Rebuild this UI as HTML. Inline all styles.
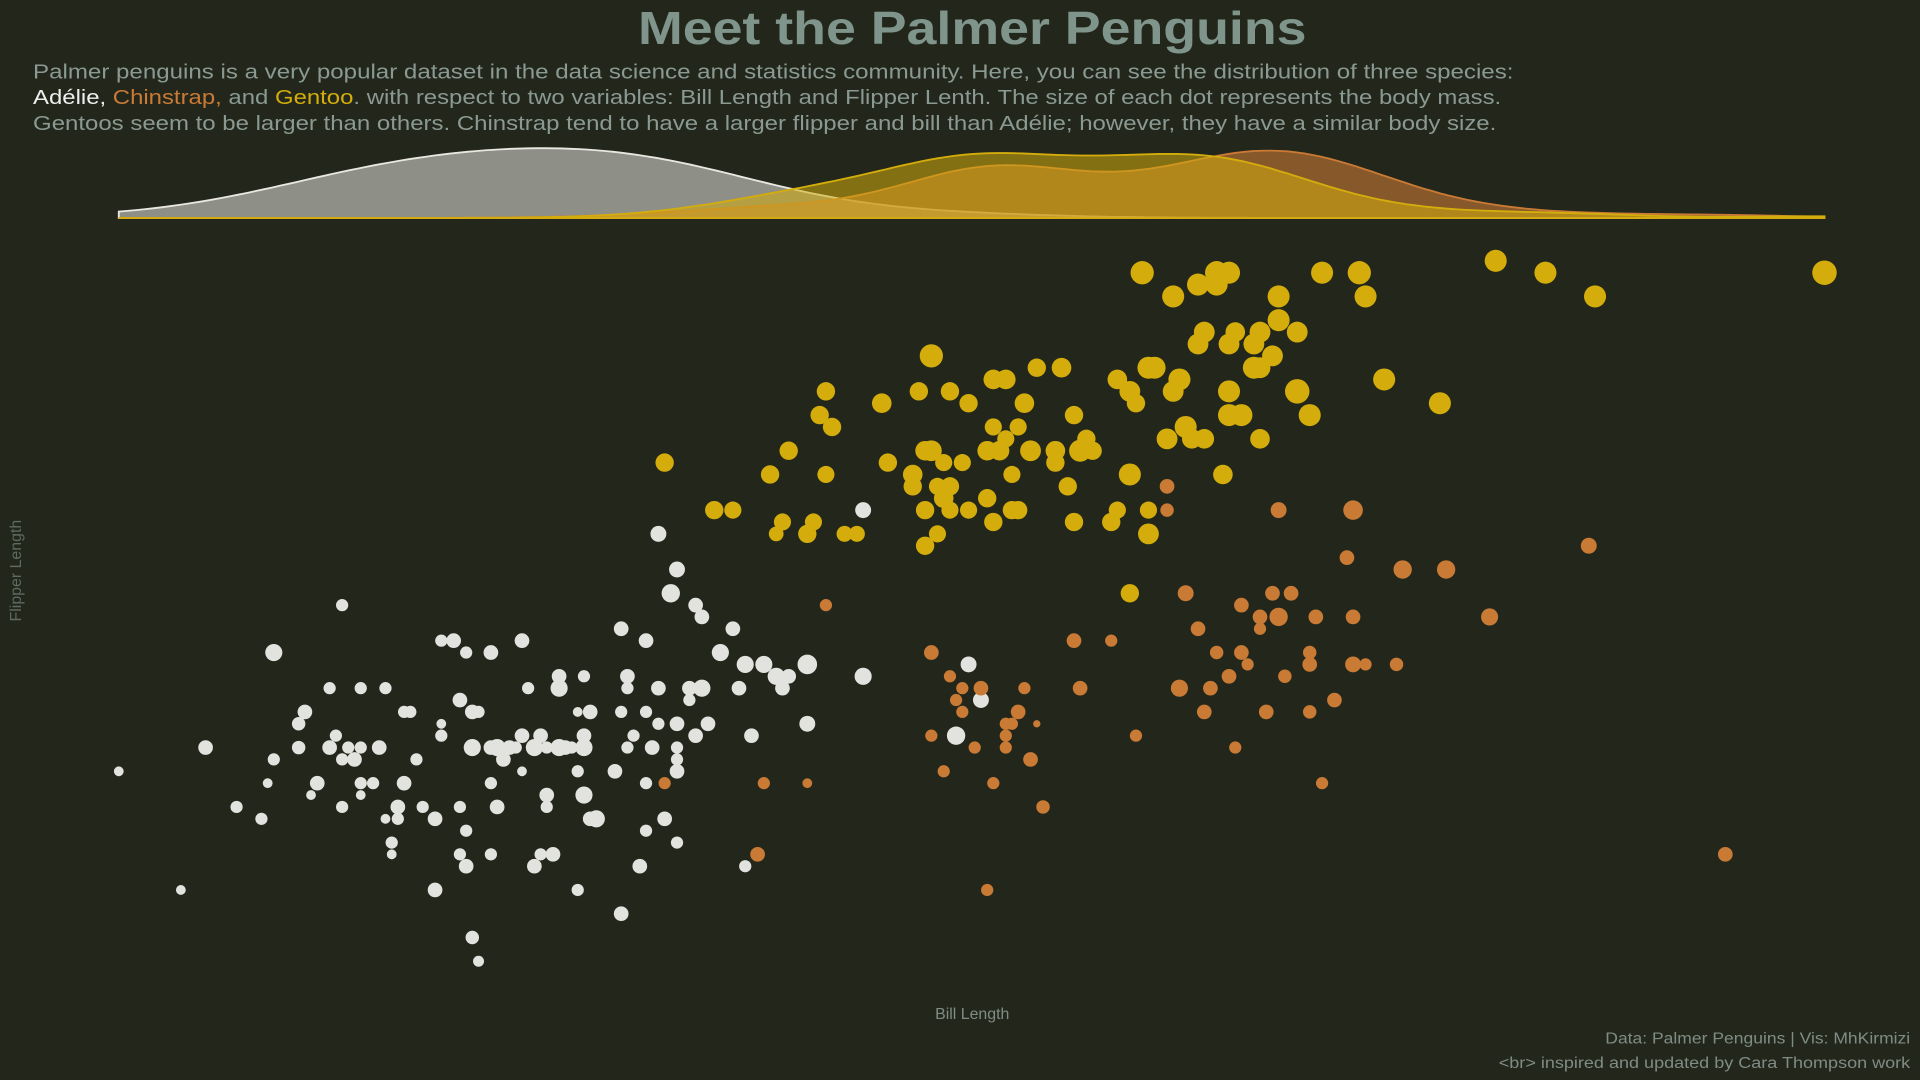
<!DOCTYPE html>
<html><head><meta charset="utf-8"><style>
html,body{margin:0;padding:0;background:#23271b;width:1920px;height:1080px;overflow:hidden}
svg{display:block}
</style></head><body>
<svg id="chart" width="1920" height="1080" viewBox="0 0 1568 882" xmlns="http://www.w3.org/2000/svg" font-family="'Liberation Sans', sans-serif">
<rect x="0" y="0" width="1568" height="882" fill="#23271b"/>
<text x="521" y="36" textLength="546" lengthAdjust="spacingAndGlyphs" font-size="38" font-weight="bold" fill="#7f958c">Meet the Palmer Penguins</text>
<g font-size="16.5" fill="#8a9a92">
<text x="27" y="64" textLength="1209" lengthAdjust="spacingAndGlyphs">Palmer penguins is a very popular dataset in the data science and statistics community. Here, you can see the distribution of three species:</text>
<text x="27" y="85" textLength="1199" lengthAdjust="spacingAndGlyphs"><tspan fill="#eeeeee">Adélie,</tspan> <tspan fill="#c97a35">Chinstrap,</tspan> and <tspan fill="#d4ad0c">Gentoo</tspan>. with respect to two variables: Bill Length and Flipper Lenth. The size of each dot represents the body mass.</text>
<text x="27" y="106" textLength="1195" lengthAdjust="spacingAndGlyphs">Gentoos seem to be larger than others. Chinstrap tend to have a larger flipper and bill than Adélie; however, they have a similar body size.</text>
</g>
<g id="dens"></g>
<g id="pts"></g>
<text x="794" y="832" text-anchor="middle" font-size="13" fill="#7f8c84">Bill Length</text>
<text x="17" y="466" text-anchor="middle" font-size="13" fill="#5f6a62" transform="rotate(-90 17 466)">Flipper Length</text>
<text x="1311" y="852" textLength="249" lengthAdjust="spacingAndGlyphs" font-size="13" fill="#7f8c84">Data: Palmer Penguins | Vis: MhKirmizi</text>
<text x="1224" y="872" textLength="336" lengthAdjust="spacingAndGlyphs" font-size="13" fill="#7f8c84">&lt;br&gt; inspired and updated by Cara Thompson work</text>
</svg>
<script>
const species = ["Adelie", "Chinstrap", "Gentoo"];
const adelieBill = [32.1,33.1,33.5,34.0,34.4,34.5,34.6,34.6,35.0,35.0,35.1,35.2,35.3,35.5,35.5,35.6,35.7,35.7,35.7,35.8,35.9,36.0,36.0,36.0,36.0,36.2,36.3,36.4,36.4,36.5,36.5,36.6,36.6,36.7,36.7,36.8,36.9,37.0,37.2,37.2,37.3,37.3,37.3,37.5,37.6,37.6,37.6,37.7,37.7,37.7,37.8,37.8,37.9,38.1,38.1,38.1,38.1,38.2,38.2,38.3,38.4,38.5,38.6,38.6,38.6,38.7,38.8,38.8,38.9,38.9,39.0,39.0,39.0,39.1,39.2,39.2,39.2,39.3,39.4,39.5,39.5,39.5,39.6,39.6,39.6,39.6,39.7,39.7,39.8,40.1,40.2,40.2,40.2,40.3,40.3,40.3,40.4,40.5,40.6,40.6,40.6,40.6,40.7,40.8,40.8,40.8,40.9,41.0,41.1,41.1,41.1,41.1,41.1,41.1,41.3,41.3,41.4,41.4,41.5,41.5,41.6,41.8,42.0,42.1,42.2,42.2,42.3,42.5,42.7,42.8,42.9,43.2,43.2,44.1,44.1,45.8,45.6,46.0,37.9,37.8];
const adelieFlipper = [188,178,190,185,184,187,189,198,190,192,193,186,187,195,190,191,202,185,189,190,189,190,187,186,195,187,190,195,184,182,181,185,184,187,193,193,189,185,184,178,199,192,191,199,194,185,181,183,180,198,190,193,193,198,190,187,181,190,185,189,190,190,199,188,191,195,190,180,191,181,190,186,185,181,196,195,190,190,190,193,178,188,196,191,186,190,193,184,184,188,200,193,176,196,195,190,191,180,199,193,187,183,190,208,195,192,184,203,205,192,190,189,188,182,195,194,202,191,201,195,192,198,200,195,197,180,191,197,196,195,196,197,192,210,196,197,191,194,172,174];
const adelieMass = [3180,3180,4140,3660,3660,3180,3660,4620,3900,3900,4140,3180,4140,3660,4140,3660,3660,3660,3660,3660,4140,3660,3660,3180,3660,3660,4140,3660,3180,3660,3180,4140,3660,4140,3660,3660,3660,3660,4140,4140,3660,3180,3660,4140,4140,3660,3660,3660,4140,3660,4620,4140,3660,4140,4140,3660,3660,4620,4140,4140,4140,3660,4140,3180,4140,3660,4620,4140,4140,3660,3660,4140,3660,4140,4140,4620,4620,4140,3660,3180,3660,3660,3660,4140,4620,4620,4140,4140,4620,4140,4140,3660,4140,4140,3660,3660,3660,4140,4140,3660,3660,3660,4140,4380,4140,3660,4140,4860,4380,4140,3660,3660,4140,3660,4140,3660,4140,4140,4140,4620,4140,4620,4140,4140,4620,3660,4140,4620,4620,4140,4140,5100,4380,4380,4620,4380,4860,4380,3420,3900];
const chinBill = [40.9,42.4,42.5,43.2,43.5,45.2,45.2,45.4,45.5,45.6,45.7,45.7,45.9,46.0,46.1,46.2,46.4,46.4,46.4,46.5,46.6,46.7,46.8,46.9,47.0,47.5,47.6,48.1,48.5,49.0,49.0,49.2,49.3,49.5,49.6,49.7,49.8,50.0,50.1,50.2,50.2,50.3,50.5,50.5,50.6,50.7,50.8,50.8,50.9,51.0,51.3,51.3,51.3,51.4,51.5,51.7,51.9,52.0,52.0,52.0,52.2,52.7,52.8,53.5,54.2,55.8,58.0];
const chinFlipper = [187,181,187,187,202,198,191,188,196,194,195,193,190,195,178,187,192,191,190,192,193,195,189,192,185,199,195,199,191,212,210,195,203,200,193,195,198,196,190,202,198,197,201,200,193,203,201,210,196,203,197,198,193,201,187,194,206,197,210,201,197,197,205,205,201,207,181];
const chinMass = [3660,4140,3660,3180,3660,4140,3660,3660,3660,3660,3660,3660,3660,4140,3660,3660,3660,3660,3660,3660,4140,3660,4140,2700,3900,4140,4140,3660,3660,4140,3900,4620,4380,4140,4140,4140,3900,4140,3660,4140,4140,3660,4140,3660,4140,4140,4860,4380,3900,4140,4140,3900,3900,4140,3660,4140,4140,4380,5100,4140,3660,3900,4860,4860,4620,4380,4140];
const gentooBill = [40.9,41.7,42.0,42.6,42.7,42.8,42.9,43.2,43.3,43.4,43.5,43.5,43.6,43.8,44.0,44.4,44.5,44.9,44.9,45.0,45.1,45.1,45.1,45.2,45.2,45.3,45.3,45.4,45.4,45.5,45.5,45.5,45.7,45.8,45.8,46.1,46.1,46.2,46.2,46.2,46.3,46.4,46.4,46.5,46.5,46.6,46.6,46.7,46.8,46.9,47.2,47.2,47.3,47.4,47.5,47.5,47.6,47.7,47.8,48.1,48.2,48.2,48.4,48.4,48.4,48.5,48.6,48.7,48.7,48.7,48.8,49.0,49.1,49.1,49.2,49.3,49.4,49.5,49.5,49.6,49.6,49.8,49.8,49.9,50.0,50.0,50.0,50.0,50.2,50.1,50.4,50.4,50.5,50.5,50.5,50.7,50.8,50.8,51.1,51.1,51.3,51.5,52.1,52.2,52.5,53.4,54.3,55.1,55.9,59.6];
const gentooFlipper = [214,210,210,213,208,209,215,208,209,218,220,213,217,208,208,219,214,213,212,220,215,210,207,223,215,212,208,214,211,220,212,210,214,219,210,211,215,221,217,209,215,221,216,213,210,217,210,219,215,222,215,214,222,212,218,209,215,216,215,209,221,210,213,203,220,219,230,222,210,208,222,216,228,220,221,217,216,229,224,225,216,230,229,213,230,224,220,218,218,225,222,224,225,222,216,223,228,226,225,220,218,230,230,228,221,219,231,230,228,230];
const gentooMass = [4860,4860,4620,4860,4140,4620,4860,4860,4620,4860,4860,4620,4860,4380,4380,5100,4860,5100,4860,4860,5100,4860,4860,5820,5340,4620,4620,4620,5100,4860,4860,4620,4620,4860,4620,4860,5100,5100,4620,4860,5100,5100,4620,4620,4860,4620,4860,5100,5340,4860,5100,4860,5100,4860,4860,4860,5580,4860,4860,4860,5100,4620,5580,4860,5340,4860,5820,5580,4620,5340,5580,5340,5580,5340,5580,5580,5100,5580,5340,5340,5100,5820,5580,5100,5580,5340,5580,5580,5580,5100,5580,5340,5340,5340,5100,5340,5580,5580,5340,6060,5580,5580,5820,5580,5580,5580,5580,5580,5580,6060];

const NS = "http://www.w3.org/2000/svg";
const X0 = 97, X1 = 1490, BMIN = 32.1, BMAX = 59.6;
const Y_TOP = 213, Y_BOT = 785, FMAX = 231, FMIN = 172;
function xScale(b){ return X0 + (b - BMIN) / (BMAX - BMIN) * (X1 - X0); }
function yScale(f){ return Y_TOP + (FMAX - f) / (FMAX - FMIN) * (Y_BOT - Y_TOP); }
function rScale(m){ return 3 + (m - 2700) / 3600 * 7.5; }

const groups = [
  {name:"adelie", bill:adelieBill, fl:adelieFlipper, mass:adelieMass, color:"#e2e2de", dfill:"#8e8f86", dop:1, dstroke:"#e8e8e0", bw:1.6, h:57},
  {name:"chinstrap", bill:chinBill, fl:chinFlipper, mass:chinMass, color:"#c97a35", dfill:"#c97a35", dop:0.6, dstroke:"#c97a35", bw:1.3, h:55},
  {name:"gentoo", bill:gentooBill, fl:gentooFlipper, mass:gentooMass, color:"#d4ad0c", dfill:"#d4ad0c", dop:0.55, dstroke:"#d4ad0c", bw:1.2, h:53}
];

const dens = document.getElementById("dens");
const BASE = 178;
function kde(arr, x, bw){ let s=0; for(const v of arr){ const z=(x-v)/bw; s+=Math.exp(-0.5*z*z);} return s/(arr.length*bw*Math.sqrt(2*Math.PI)); }
groups.forEach(g => {
  const c = [];
  for(let i=0;i<=200;i++){ const b=BMIN+(BMAX-BMIN)*i/200; c.push([b,kde(g.bill,b,g.bw)]); }
  let maxD = 0; c.forEach(p => { if(p[1]>maxD) maxD=p[1]; });
  let d = "M" + xScale(BMIN) + "," + BASE;
  c.forEach(p => { d += " L" + xScale(p[0]).toFixed(1) + "," + (BASE - p[1]/maxD*g.h).toFixed(1); });
  d += " L" + xScale(BMAX) + "," + BASE + " Z";
  const path = document.createElementNS(NS, "path");
  path.setAttribute("d", d);
  path.setAttribute("fill", g.dfill);
  path.setAttribute("fill-opacity", g.dop);
  path.setAttribute("stroke", g.dstroke);
  path.setAttribute("stroke-width", "1.5");
  
  
  dens.appendChild(path);
});

const pts = document.getElementById("pts");
groups.forEach(g => {
  const gg = document.createElementNS(NS, "g");
  
  
  g.bill.forEach((b,i) => {
    const c = document.createElementNS(NS, "circle");
    c.setAttribute("cx", xScale(b).toFixed(1));
    c.setAttribute("cy", yScale(g.fl[i]).toFixed(1));
    c.setAttribute("r", rScale(g.mass[i]).toFixed(1));
    c.setAttribute("fill", g.color);
    
    
    gg.appendChild(c);
  });
  pts.appendChild(gg);
});
</script>
</body></html>
